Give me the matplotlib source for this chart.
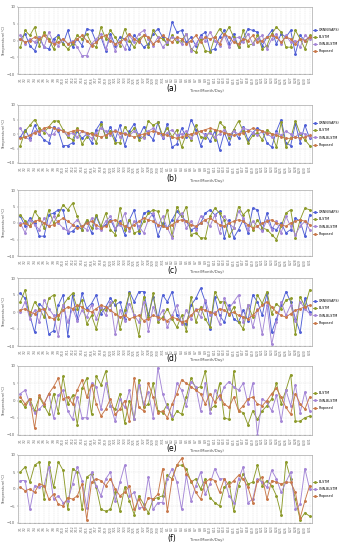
import numpy as np
import matplotlib as mpl
mpl.use("Agg")
import matplotlib.pyplot as plt

# ===== data =====
dates = [f"7/{d}" for d in range(1, 32)] + [f"8/{d}" for d in range(1, 32)]

a_base = [0.5, 2.0, -1.5, -3.0, 1.0, -2.0, -2.5, 0.5, 1.5, -1.0,
          3.0, -2.0, 0.5, -1.5, 3.5, 3.0, -0.5, 1.0, -3.0, 2.0,
          -1.5, 1.0, 0.5, -2.5, 1.5, 0.0, -2.0, -1.0, 2.0, 3.5,
          1.0, -1.0, 5.5, 2.5, 3.0, -0.5, 1.0, -1.5, 1.5, 2.5,
          -3.0, -2.5, 1.0, 3.0, -1.0, 2.0, -2.0, 0.5, 3.5, 3.0,
          2.5, -1.5, 1.0, 3.0, -1.0, 2.0, 1.0, 3.0, -4.0, 1.5,
          0.0, 1.0]
a_blstm = [-2.0, 3.0, 1.5, 4.0, -1.5, 2.5, 0.5, -2.5, 1.0, -1.0,
           -2.5, -1.0, 1.5, 0.5, 2.0, -1.0, -2.0, 4.0, 0.5, 3.0,
           1.0, -1.5, 3.5, 0.0, -2.0, 0.5, 1.5, -2.0, 3.0, 1.0,
           0.5, -1.0, 1.5, -0.5, 0.0, 2.0, -2.5, -3.5, 0.5, -3.0,
           -3.5, 1.0, 3.5, 1.5, 4.0, 1.0, -2.0, 3.0, -1.5, -1.0,
           1.5, -2.5, -1.5, 2.0, 4.0, 2.5, -2.0, -2.0, 3.0, 0.5,
           -2.5, 1.5]
a_cnn = [1.5, -1.0, 0.5, -0.5, 1.0, -2.0, 2.5, -0.5, -1.5, 0.5,
         -1.0, 0.0, -2.0, -4.5, -4.5, -1.0, 0.5, 2.0, -2.5, 1.0,
         -3.0, 0.0, -2.5, 1.5, -0.5, 2.0, 3.0, 0.5, -1.5, 1.0,
         -2.0, -0.5, 1.0, 0.5, -1.0, 2.0, -3.0, -1.0, 1.0, 0.0,
         2.5, 0.0, -1.5, 1.5, -2.0, 0.5, 1.0, -0.5, 2.0, -1.0,
         0.5, 1.5, -2.5, 0.5, 2.0, -1.0, 1.5, -0.5, 0.0, -2.0,
         1.5, 0.5]
a_prop = [0.5, -0.5, 0.0, 1.0, 0.5, 1.5, 0.0, -1.0, -0.5, 0.5,
          -1.0, -0.5, 0.5, 1.5, 0.0, -1.5, -0.5, 1.0, 1.5, 0.0,
          -1.0, -0.5, 0.5, 2.0, 0.5, -0.5, 1.5, 1.0, -1.0, 0.0,
          1.5, 0.5, -0.5, 1.0, 0.5, -1.0, 0.0, 1.5, -0.5, 1.0,
          0.5, 1.0, -1.0, 2.0, 1.0, -0.5, -1.0, 0.5, 0.0, 1.5,
          -0.5, 0.0, 1.0, 1.5, 1.0, -0.5, 1.0, 0.5, -1.0, 0.5,
          0.0, 1.0]

b_base = [-1.0, 1.5, -1.5, 3.0, 0.0, -2.0, -3.0, 2.5, 1.0, -4.0,
          -4.0, -3.0, 1.0, -1.5, 0.0, -3.0, 1.5, 4.0, -1.0, 2.5,
          -2.0, 3.0, -4.0, 1.0, 3.5, -1.0, 2.5, 0.0, -2.0, 4.0,
          -1.5, 3.5, -4.5, -3.5, 2.0, -1.0, 5.0, 1.5, -4.0, 0.0,
          -2.5, 1.0, -5.5, 0.5, -3.5, 1.5, -1.5, 2.5, -2.0, 0.5,
          2.0, 1.0, -3.0, -4.5, 1.0, 5.0, -3.0, -4.0, 3.5, -3.0,
          3.0, -1.5]
b_blstm = [-4.0, 1.0, 3.0, 5.0, 2.0, 0.5, 2.5, 4.5, 4.5, 1.5,
           -1.0, -2.0, 2.0, -3.5, -1.0, 0.5, -3.0, 3.5, -1.0, 1.0,
           -3.0, -3.0, 2.5, 0.0, 2.0, -2.0, -1.0, 4.5, 3.0, 4.0,
           -0.5, 2.0, -1.0, 1.5, -4.5, 0.0, -2.0, 3.0, -1.0, -1.5,
           1.0, -2.0, 4.0, 2.5, -1.5, 1.5, 4.5, 1.0, -3.0, -0.5,
           0.5, -2.0, 1.5, 0.0, -4.5, 4.0, -4.5, -1.5, 4.5, 0.0,
           -2.0, -4.0]
b_cnn = [2.0, -1.0, -2.0, 1.0, 0.5, 1.5, -0.5, 0.0, 2.0, 1.0,
         -0.5, 0.5, -1.0, 1.0, 0.0, -1.5, 0.5, 2.0, 1.0, -0.5,
         1.5, -1.0, 0.5, -0.5, 1.0, 0.0, -1.5, 1.0, 2.0, 0.5,
         -1.0, 0.5, 1.5, -0.5, 0.0, 1.0, -1.5, 0.5, 1.0, -0.5,
         0.5, -1.0, 0.0, 1.5, -0.5, 1.0, 0.0, 2.0, 1.5, 0.5,
         -0.5, 1.0, 0.0, -1.0, 0.5, -0.5, 1.0, 0.0, -1.0, 0.5,
         0.0, -1.0]
b_prop = [-1.5, -1.0, -0.5, 0.5, 1.0, 2.0, 2.5, 2.0, 1.5, 1.0,
          0.5, 1.0, 1.5, 1.0, 0.5, 0.0, -0.5, -1.0, -0.5, 0.5,
          1.0, 0.5, 0.0, -0.5, -1.0, -0.5, 0.0, 0.5, 1.0, 0.5,
          0.0, -0.5, -1.0, -1.5, -1.0, -0.5, 0.0, 0.5, 1.0, 1.5,
          2.0, 1.5, 1.0, 0.5, 0.0, -0.5, 0.0, 0.5, 1.0, 2.0,
          1.5, 1.0, 0.5, 0.0, -0.5, -1.0, -1.5, -1.5, -1.0, -1.5,
          -1.0, -0.5]

c_base = [2.0, -1.0, 1.5, 0.0, -4.0, -4.0, 2.5, 3.0, 4.0, 4.0,
          -3.0, -2.5, -1.0, -2.0, 0.5, -3.0, 2.0, -1.5, -0.5, 1.0,
          -2.0, 0.5, -3.5, 1.0, 4.0, -3.0, 3.0, 3.5, 2.5, -4.0,
          0.0, -1.5, 1.0, 3.5, 2.0, 0.5, -2.0, -1.5, 0.0, 3.0,
          4.0, 2.5, 3.5, -4.5, 1.0, -4.5, -2.0, 1.0, -3.0, 4.5,
          4.0, -2.0, 3.0, -1.5, -2.0, 0.0, -3.0, -2.0, 1.5, 0.5,
          -4.0, 2.5]
c_blstm = [2.5, 0.5, -1.0, 3.5, 1.5, -1.5, 4.0, 0.0, 2.5, 5.5,
           4.0, 6.0, 2.0, -2.0, 1.0, -1.5, 2.5, -1.0, 3.0, -2.0,
           -3.5, 4.5, -2.0, 1.0, -3.0, -2.5, 0.5, 3.0, 4.0, 3.5,
           -1.0, 4.0, -4.0, 5.0, 2.0, 5.0, -3.5, -3.0, -4.5, -4.5,
           2.0, 4.5, 3.0, 1.0, -4.0, -1.5, 5.0, 2.5, 4.0, -2.0,
           1.0, -1.5, -2.0, -3.5, -5.0, -1.0, 3.0, 4.0, -4.5, 1.0,
           4.5, 4.0]
c_cnn = [0.0, -3.0, 1.0, -0.5, -2.0, 1.5, -1.0, 2.0, 0.0, -1.5,
         -2.5, -0.5, 1.0, -1.0, -2.0, 1.5, -1.5, -2.0, 0.5, 2.0,
         -1.5, -0.5, 3.0, -2.5, 0.5, -1.0, -3.0, 1.0, 3.0, -1.0,
         2.0, -1.5, -4.5, 1.0, 3.0, -1.5, 0.5, -2.0, 2.0, 1.0,
         -1.0, 2.5, -3.0, 2.0, 0.0, -1.5, 3.5, 1.5, -2.0, 0.5,
         -1.0, -2.5, 1.0, -2.0, 0.5, -3.0, 2.0, -1.0, -3.5, -1.0,
         0.5, -2.0]
c_prop = [-0.5, 0.0, -1.0, 0.5, 1.0, 0.0, -1.0, -0.5, 0.5, 1.5,
          0.5, -0.5, -1.5, -1.0, 0.0, 0.5, -0.5, -1.5, -1.0, 0.5,
          1.0, 0.0, -1.0, -1.5, -0.5, 0.5, 1.5, 1.0, 0.5, -0.5,
          -1.0, -1.5, -0.5, 0.5, 1.0, 0.5, -0.5, -1.0, 0.0, 1.0,
          1.5, 0.5, -0.5, -1.0, 0.0, 0.5, 1.0, 0.5, -0.5, -1.5,
          -1.0, 0.0, 0.5, 1.0, 0.0, -0.5, -1.0, 0.0, 0.5, 1.0,
          0.5, -0.5]

d_base = [5.5, 4.0, -1.0, -6.0, 2.5, 1.0, -6.5, -5.5, 2.0, 5.0,
          -7.0, 5.0, -2.0, 5.5, 1.0, 2.5, 5.0, -0.5, 1.5, 4.0,
          2.0, 3.0, -2.0, 6.0, 3.0, 6.0, 6.0, -1.0, 4.5, -2.0,
          5.0, 3.0, 6.0, -1.0, -3.0, -3.5, 2.0, 4.0, 7.0, 3.0,
          -5.0, 4.5, -1.0, -3.0, 2.0, -2.0, -3.0, 0.5, -2.5, 5.0,
          3.0, -1.0, 5.5, -6.0, -2.0, 2.0, 6.0, 3.0, -2.0, -6.0,
          4.0, 0.0]
d_blstm = [3.0, 6.5, -1.0, 3.0, 1.0, -1.5, 4.0, 5.0, -2.0, 2.0,
           4.0, 5.5, 1.0, 3.5, -3.5, -1.0, -5.0, 1.0, 0.5, 2.0,
           3.5, -5.0, 0.5, 5.5, -1.0, -7.0, 4.5, -1.5, 5.5, -3.0,
           -1.5, 1.0, -2.0, -4.5, -1.0, -5.5, 4.5, -3.0, 1.5, -2.0,
           -4.5, 6.0, 3.0, 3.0, -1.0, 1.5, -3.0, -5.0, 2.0, -1.5,
           5.0, 2.5, 6.0, -0.5, 2.5, 1.0, 3.5, 4.0, -6.5, 4.5,
           1.5, 6.5]
d_cnn = [0.0, 3.0, -2.0, 0.5, -3.0, 3.5, 1.0, -1.0, -7.0, 2.0,
         -3.0, 1.0, -2.5, 0.5, -1.5, 2.0, -2.0, 1.5, -1.0, 3.0,
         -6.5, 0.5, -2.5, 2.5, -1.0, -3.0, 3.0, -5.5, 1.5, -2.0,
         0.5, -4.5, -1.0, 2.0, -3.5, 0.5, -2.0, 1.0, -1.5, 3.5,
         -1.0, 0.0, -3.5, 4.0, 1.0, 3.0, 5.0, -3.0, 2.0, -4.5,
         1.0, -6.5, 2.0, -9.5, -3.0, 3.0, -1.0, 2.0, -2.5, 3.0,
         1.0, -0.5]
d_prop = [0.5, 1.0, 0.0, -0.5, 0.5, 1.0, -1.5, -2.0, -1.0, 0.5,
          1.5, 1.0, 2.0, 1.5, 0.5, 0.0, 1.0, 2.0, 1.5, 0.5,
          -0.5, -1.5, -1.0, -2.0, -1.5, -1.0, -2.5, -2.0, -1.0, -1.5,
          -2.0, -2.5, -1.5, -2.0, -3.0, -2.5, -1.0, 0.5, 1.0, 0.5,
          0.0, -0.5, 1.0, 0.5, -0.5, 0.0, -1.0, -1.5, -2.0, -1.0,
          0.5, 2.0, 3.0, 1.5, 0.0, -1.0, -1.5, -0.5, 0.5, 1.0,
          1.5, 2.0]

e_blstm = [0.0, -2.0, 0.5, -3.0, 1.0, -1.5, -4.0, 2.0, -3.5, 7.0,
           -1.0, 1.5, -7.0, 3.5, 6.5, -4.0, 7.0, 4.5, 8.5, -1.5,
           -2.5, 2.0, -6.5, 0.0, -5.5, 6.0, -2.0, -1.0, 5.0, -3.0,
           -3.5, -1.0, -5.5, -3.0, -4.0, 1.0, 6.5, 3.5, 4.0, 8.5,
           -2.5, -1.5, 5.0, -5.0, -5.5, 8.5, -3.0, -3.5, -7.0, -3.0,
           -5.5, -3.0, -1.5, 0.5, 5.0, -1.0, 3.0, 7.5, -6.0, -6.0,
           -5.0, -4.5]
e_cnn = [2.0, 3.0, -1.0, -3.5, -2.5, -1.0, 2.0, -5.0, 1.5, 3.0,
         -3.0, -5.5, 1.0, -5.0, -5.0, 5.0, 4.0, -2.5, 5.0, -1.5,
         -6.0, 0.5, -2.0, 3.0, -5.5, 4.5, -1.0, 2.5, -5.0, 9.5,
         2.0, -2.0, -4.5, 5.0, 3.0, -1.5, 5.5, 4.0, -3.0, 5.0,
         -3.5, 3.0, 0.5, 4.0, 5.5, 4.0, 3.0, 5.0, -1.0, 5.0,
         -10.0, 0.5, -0.5, -3.0, 1.5, -6.0, 3.0, -1.5, 4.5, -3.5,
         2.5, -3.0]
e_prop = [1.0, -1.0, 0.5, -8.0, 1.5, -1.0, 2.0, 4.0, 6.5, 0.5,
          1.0, -1.0, 3.0, 6.0, 1.0, 4.5, -1.0, -4.5, -2.5, 0.5,
          -4.0, -2.5, 0.0, -6.0, 6.5, -2.0, -3.0, 5.0, 1.0, -3.5,
          -3.0, -5.0, -1.0, 2.0, 6.0, 5.0, 4.0, 3.0, 2.0, -1.0,
          2.0, -0.5, 1.5, -1.0, -2.0, 1.0, -3.0, -1.5, 0.5, 1.0,
          -1.0, -1.5, 0.0, 2.0, 3.5, 1.0, -2.0, -4.0, 2.0, -1.0,
          -2.5, 1.0]

f_blstm = [5.0, 6.5, 2.0, 7.0, 8.0, -3.0, 8.0, 0.5, 8.0, 5.5,
           -6.0, 6.0, 5.0, -6.0, 3.5, 4.5, 0.5, -6.0, -6.5, -6.0,
           -1.0, -6.5, 0.5, -3.5, -7.5, -2.0, -4.5, -7.0, -3.0, -2.5,
           -2.0, 4.0, 3.0, 7.0, 7.0, 6.0, 2.0, 3.0, 0.0, 3.0,
           -2.5, -4.0, -5.0, 0.5, 2.0, -6.5, 1.0, 4.5, 1.5, 2.0,
           7.0, 1.0, 2.5, 1.0, -2.0, -7.5, 8.0, 3.0, -3.0, -9.0,
           -7.0, -8.0]
f_cnn = [2.5, 2.5, -6.0, 1.0, 0.5, 1.0, 6.5, -3.0, -2.0, -4.0,
         -3.5, 1.5, 6.5, 2.5, -5.5, 5.0, 1.0, -2.0, 3.0, 5.0,
         -3.5, 2.0, 7.0, -2.0, -1.0, -5.5, -5.5, 3.5, -6.0, -4.0,
         -4.0, 3.0, 6.0, 2.0, -6.0, 4.0, -3.5, 1.0, 5.0, -1.5,
         1.5, 6.0, 3.0, 3.0, -2.0, -4.0, 3.0, 6.5, -4.0, -3.0,
         3.0, 2.0, 0.5, 5.5, 3.0, -1.0, 2.0, 5.0, -6.0, -4.5,
         6.0, 0.0]
f_prop = [0.5, -0.5, 0.0, -1.0, 1.5, 1.0, -3.0, -1.5, -4.5, -5.0,
          -2.5, -3.0, -2.0, 1.5, -9.0, 2.0, 3.0, 2.5, 1.0, 3.0,
          0.0, -2.0, -1.0, 1.0, -6.0, -3.0, -6.0, -2.5, -3.0, -1.5,
          6.0, -6.5, 3.0, 7.0, 9.0, 4.5, 2.5, -1.0, -3.0, 2.0,
          3.0, 2.5, -1.0, 3.0, 1.0, 2.5, 4.0, 3.0, 0.5, -4.0,
          2.5, 3.5, -3.0, 2.5, 2.0, 1.5, 2.0, 2.0, -1.0, -8.5,
          -3.5, 1.0]

names4 = ["GRNN(SAPS)", "BLSTM", "CNN-BLSTM", "Proposed"]
names3 = ["BLSTM", "CNN-BLSTM", "Proposed"]
captions = ["(a)", "(b)", "(c)", "(d)", "(e)", "(f)"]

panels = [
    ([a_base, a_blstm, a_cnn, a_prop], names4),
    ([b_base, b_blstm, b_cnn, b_prop], names4),
    ([c_base, c_blstm, c_cnn, c_prop], names4),
    ([d_base, d_blstm, d_cnn, d_prop], names4),
    ([e_blstm, e_cnn, e_prop], names3),
    ([f_blstm, f_cnn, f_prop], names3),
]

# ===== style =====
colors = {"GRNN(SAPS)": "#4f5fd6", "BLSTM": "#8c9a2a",
          "CNN-BLSTM": "#a486d6", "Proposed": "#c8784a"}

W, H = 347, 550
# axes top / bottom in pixels
ax_px = [(7, 74), (105, 163), (190, 256), (278, 346), (366, 435), (455, 523)]
cap_px = [89, 179, 270, 358, 449, 538]
x0, x1 = 18, 312

fig = plt.figure(figsize=(W / 100, H / 100), dpi=100)
fig.patch.set_facecolor('white')

x = np.arange(len(dates))
for (series, names), (top, bot), cy, cap in zip(panels, ax_px, cap_px, captions):
    ax = fig.add_axes([x0 / W, 1 - bot / H, (x1 - x0) / W, (bot - top) / H])
    for s, n in zip(series, names):
        ax.plot(x[:len(s)], s, c=colors[n], lw=0.65, marker='o', ms=1.1, label=n)
    ax.set_xlim(-0.5, len(dates) - 0.5)
    ax.set_ylim(-10, 10)
    ax.set_yticks([-10, -5, 0, 5, 10])
    ax.set_xticks(x)
    ax.set_xticklabels(dates, rotation=90, fontsize=2.2, color='#666666')
    ax.tick_params(axis='y', labelsize=2.8, colors='#666666', length=1, width=0.3, pad=1)
    ax.tick_params(axis='x', length=1, width=0.3, pad=1)
    ax.grid(True, color='#dddddd', lw=0.3, ls='--')
    for sp in ax.spines.values():
        sp.set_color('#aaaaaa')
        sp.set_linewidth(0.5)
    ax.set_ylabel('Temperature(°C)', fontsize=2.6, color='#555555', labelpad=1)
    ax.legend(loc='center left', bbox_to_anchor=(1.0, 0.5), fontsize=2.3,
              frameon=False, handlelength=1.3, handletextpad=0.5,
              labelspacing=1.0, borderaxespad=0.3, borderpad=0.1)
    fig.text(172 / W, 1 - cy / H, cap, ha='center', va='center', fontsize=5.5)
    fig.text(207 / W, 1 - (cy + 2) / H, 'Time(Month/Day)', ha='center', va='center',
             fontsize=2.8, color='#555555')

plt.savefig('out.png', dpi=100)
